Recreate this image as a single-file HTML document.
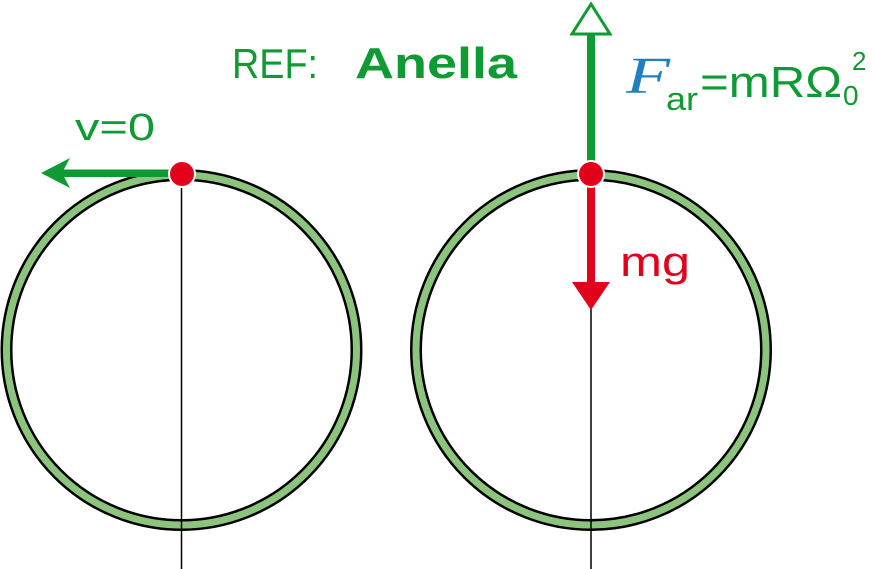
<!DOCTYPE html>
<html><head><meta charset="utf-8"><style>
html,body{margin:0;padding:0;background:#fff;}
svg{display:block;}
text{font-family:"Liberation Sans",sans-serif;}
</style></head><body>
<svg width="873" height="569" viewBox="0 0 873 569" xmlns="http://www.w3.org/2000/svg">
<circle cx="181.5" cy="350" r="175" fill="none" stroke="#000" stroke-width="12"/>
<circle cx="181.5" cy="350" r="175" fill="none" stroke="#8cc47e" stroke-width="7"/>
<line x1="181.5" y1="188" x2="181.5" y2="569" stroke="#000" stroke-width="1.5"/>
<circle cx="591" cy="350" r="175" fill="none" stroke="#000" stroke-width="12"/>
<circle cx="591" cy="350" r="175" fill="none" stroke="#8cc47e" stroke-width="7"/>
<line x1="591" y1="300" x2="591" y2="569" stroke="#000" stroke-width="1.5"/>
<rect x="62" y="169.5" width="108" height="7.5" fill="#0f9a33"/>
<path d="M41,173 L70,158 L62,173 L70,188 Z" fill="#0f9a33"/>
<circle cx="182" cy="174" r="14" fill="#fff"/>
<circle cx="182" cy="174" r="12" fill="#e2001a"/>
<rect x="587" y="34" width="8" height="128" fill="#0f9a33"/>
<path d="M591,4 L610,34 L572,34 Z" fill="#fff" stroke="#0f9a33" stroke-width="3"/>
<rect x="587" y="186" width="8" height="98" fill="#e2001a"/>
<path d="M572,282 L610,282 L591,310 Z" fill="#e2001a"/>
<circle cx="591" cy="174" r="14" fill="#fff"/>
<circle cx="591" cy="174" r="12" fill="#e2001a"/>
<text x="232" y="78" font-size="42" fill="#0f9a33" textLength="86" lengthAdjust="spacingAndGlyphs">REF:</text>
<text x="355" y="78" font-size="44" font-weight="bold" fill="#0f9a33" textLength="162" lengthAdjust="spacingAndGlyphs">Anella</text>
<text x="75" y="140" font-size="38" fill="#0f9a33" textLength="80" lengthAdjust="spacingAndGlyphs">v=0</text>
<text x="620" y="276" font-size="42" fill="#e2001a" textLength="70" lengthAdjust="spacingAndGlyphs">mg</text>
<text x="626" y="93" font-size="52" fill="#1f7fc0" style="font-family:'Liberation Serif',serif;font-style:italic" textLength="44" lengthAdjust="spacingAndGlyphs">F</text>
<text x="666" y="110" font-size="32" fill="#0f9a33" textLength="32" lengthAdjust="spacingAndGlyphs">ar</text>
<text x="700" y="97" font-size="44" fill="#0f9a33" textLength="142" lengthAdjust="spacingAndGlyphs">=mRΩ</text>
<text x="843" y="105" font-size="28" fill="#0f9a33">0</text>
<text x="852" y="70" font-size="26" fill="#0f9a33">2</text>
</svg>
</body></html>
